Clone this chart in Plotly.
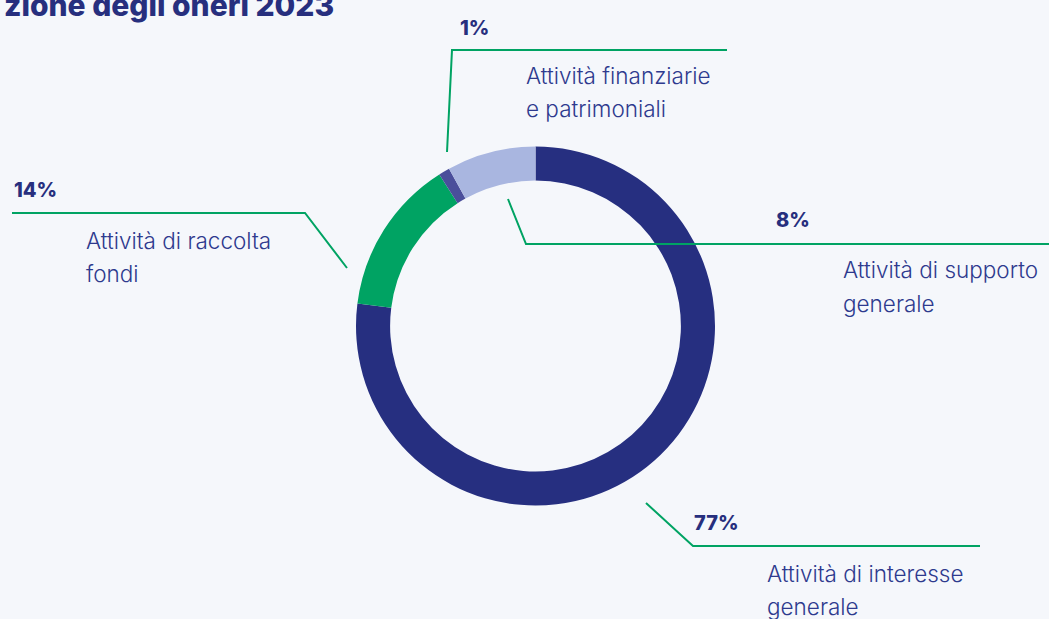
import plotly.graph_objects as go

W, H = 1049, 619

categories = ["Attività di interesse generale", "Attività di raccolta fondi",
              "Attività finanziarie e patrimoniali", "Attività di supporto generale"]
values = [77, 14, 1, 8]
pct_labels = ["77%", "14%", "1%", "8%"]
label_lines = [["Attività di interesse", "generale"],
               ["Attività di raccolta", "fondi"],
               ["Attività finanziarie", "e patrimoniali"],
               ["Attività di supporto", "generale"]]
colors = ["#262f80", "#00a363", "#4a4e9b", "#a9b6e0"]

BG = "#f5f7fb"
NAVY = "#272f7e"
LABEL = "#2e3a8e"
GREEN = "#00a363"

def px(x):
    return x / W

def py(y):
    return 1 - y / H

cx, cy, r = 535.5, 326, 179.5

fig = go.Figure()
fig.add_trace(go.Pie(
    labels=categories, values=values, sort=False, direction="clockwise", rotation=0,
    hole=0.81, marker=dict(colors=colors, line=dict(width=0)),
    textinfo="none", hoverinfo="label+percent", showlegend=False,
    domain=dict(x=[px(cx - r), px(cx + r)], y=[py(cy + r), py(cy - r)]),
))

# leader lines (pixel coordinates converted to paper)
leaders = [
    [(646, 503), (693, 546), (980, 546)],
    [(347, 268), (305, 213), (12, 213)],
    [(447, 152), (452, 50), (727, 50)],
    [(508, 199), (526, 244), (1049, 244)],
]
for pts in leaders:
    path = "M " + " L ".join(f"{px(x)},{py(y)}" for x, y in pts)
    fig.add_shape(type="path", path=path, xref="paper", yref="paper",
                  line=dict(color=GREEN, width=2))

pct_pos = [(692, 523), (12, 190), (458, 28), (774, 220)]
lbl_pos = [(765, 573), (84, 240), (524, 76), (841, 270)]

for i in range(4):
    x, y = pct_pos[i]
    fig.add_annotation(x=px(x), y=py(y), xref="paper", yref="paper",
                       xanchor="left", yanchor="middle", showarrow=False,
                       text=pct_labels[i],
                       font=dict(family="Inter", size=20, color=NAVY, weight=800))
    x, y = lbl_pos[i]
    for j, line in enumerate(label_lines[i]):
        fig.add_annotation(x=px(x), y=py(y + 33 * j), xref="paper", yref="paper",
                           xanchor="left", yanchor="middle", showarrow=False,
                           text=line,
                           font=dict(family="Inter", size=22.5, color=LABEL, weight=300))

# clipped title
fig.add_annotation(x=px(2), y=py(5), xref="paper", yref="paper",
                   xanchor="left", yanchor="middle", showarrow=False,
                   text="zione degli oneri 2023",
                   font=dict(family="Inter", size=30, color=NAVY, weight=800))

fig.update_layout(width=W, height=H, margin=dict(l=0, r=0, t=0, b=0),
                  paper_bgcolor=BG, plot_bgcolor=BG)

fig.write_html("out.html",
               config={"displayModeBar": False},
               post_script="document.body.style.margin='0';"
                           "document.body.style.background='#f5f7fb';"
                           "document.body.style.overflow='hidden';")
